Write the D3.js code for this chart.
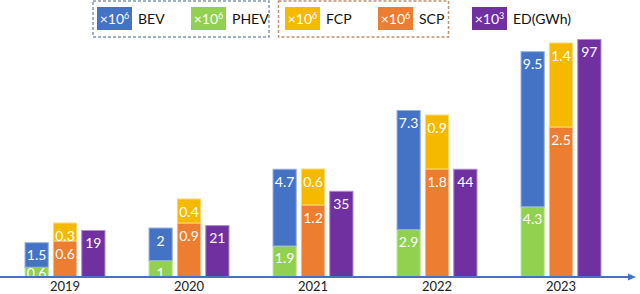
<!DOCTYPE html>
<html><head><meta charset="utf-8">
<script src="https://cdn.jsdelivr.net/npm/d3@7"></script>
<style>body{margin:0;background:#fff}svg{display:block}text{font-family:Lato,"Open Sans",sans-serif}</style>
</head><body><svg id="c" width="640" height="294"></svg>
<script>
const years = ['2019','2020','2021','2022','2023'];
const bev  = [1.5, 2, 4.7, 7.3, 9.5];
const phev = [0.6, 1, 1.9, 2.9, 4.3];
const fcp  = [0.3, 0.4, 0.6, 0.9, 1.4];
const scp  = [0.6, 0.9, 1.2, 1.8, 2.5];
const ed   = [19, 21, 35, 44, 97];
const legendItems = [
  {key:'BEV', label:'BEV', exp:'6'},
  {key:'PHEV', label:'PHEV', exp:'6'},
  {key:'FCP', label:'FCP', exp:'6'},
  {key:'SCP', label:'SCP', exp:'6'},
  {key:'ED', label:'ED(GWh)', exp:'3'}
];
const colors = {BEV:'#4472C4', PHEV:'#92D050', FCP:'#F5BA00', SCP:'#ED7D31', ED:'#7030A0'};

const svg = d3.select('#c');
const baseY = 277, topY = 37;
const x = d3.scaleBand().domain(years).range([3, 623]);
const inner = d3.scaleBand().domain(['ev','cp','ed']).range([-40, 40]).paddingInner(0.18);
const yEV = d3.scaleLinear().domain([0, 14.7]).range([baseY, topY]);
const yCP = d3.scaleLinear().domain([0, 4]).range([baseY, topY]);
const yED = d3.scaleLinear().domain([0, 98]).range([baseY, topY]);

const segs = [];
years.forEach((yr,i)=>{
  segs.push({yr, g:'ev', k:'PHEV', y0:0, y1:phev[i], v:phev[i], s:yEV});
  segs.push({yr, g:'ev', k:'BEV', y0:phev[i], y1:phev[i]+bev[i], v:bev[i], s:yEV});
  segs.push({yr, g:'cp', k:'SCP', y0:0, y1:scp[i], v:scp[i], s:yCP});
  segs.push({yr, g:'cp', k:'FCP', y0:scp[i], y1:scp[i]+fcp[i], v:fcp[i], s:yCP});
  segs.push({yr, g:'ed', k:'ED', y0:0, y1:ed[i], v:ed[i], s:yED});
});
const bx = d => x(d.yr) + x.bandwidth()/2 + inner(d.g);
svg.append('g').selectAll('rect').data(segs).join('rect')
  .attr('x', bx).attr('width', inner.bandwidth())
  .attr('y', d=>d.s(d.y1)).attr('height', d=>d.s(d.y0)-d.s(d.y1))
  .attr('fill', d=>colors[d.k])
  .attr('stroke', d=>d3.interpolateRgb(colors[d.k], '#fff')(0.45)).attr('stroke-width', 1);
svg.append('g').selectAll('text').data(segs).join('text')
  .attr('x', d=>bx(d)+inner.bandwidth()/2)
  .attr('y', d=>Math.min(d.s(d.y1)+12, baseY-5))
  .attr('text-anchor','middle').attr('dominant-baseline','central')
  .attr('fill','#fff').attr('font-size',14).text(d=>d.v);

// axis
const axisG = svg.append('g');
axisG.append('line').attr('x1',0).attr('x2',630).attr('y1',baseY).attr('y2',baseY)
  .attr('stroke','#4472C4').attr('stroke-width',2);
axisG.append('path').attr('d',`M636,${baseY} L628,${baseY-3.5} L628,${baseY+3.5} Z`).attr('fill','#4472C4');
axisG.selectAll('text').data(years).join('text')
  .attr('x', d=>x(d)+x.bandwidth()/2).attr('y', 291)
  .attr('text-anchor','middle').attr('font-size',13).attr('fill','#222').text(d=>d);

// legend
svg.append('rect').attr('x',93).attr('y',1).attr('width',176).attr('height',36)
  .attr('fill','none').attr('stroke','#8497B0').attr('stroke-width',1.5).attr('stroke-dasharray','3,2');
svg.append('rect').attr('x',278.5).attr('y',1).attr('width',170).attr('height',36)
  .attr('fill','none').attr('stroke','#C09070').attr('stroke-width',1.5).attr('stroke-dasharray','3,2');
const lx = [97, 191, 285, 378, 472];
const lg = svg.append('g').selectAll('g').data(legendItems).join('g')
  .attr('transform',(d,i)=>`translate(${lx[i]},7)`);
lg.append('rect').attr('width',35).attr('height',23).attr('fill',d=>colors[d.key]);
const sw = lg.append('text').attr('x',17.5).attr('y',16.5).attr('text-anchor','middle')
  .attr('fill','#fff').attr('font-size',14);
sw.append('tspan').text('×10');
sw.append('tspan').attr('font-size',9).attr('dy',-5).text(d=>d.exp);
lg.append('text').attr('x',41).attr('y',16.5).attr('font-size',14).attr('fill','#111').text(d=>d.label);
</script></body></html>
